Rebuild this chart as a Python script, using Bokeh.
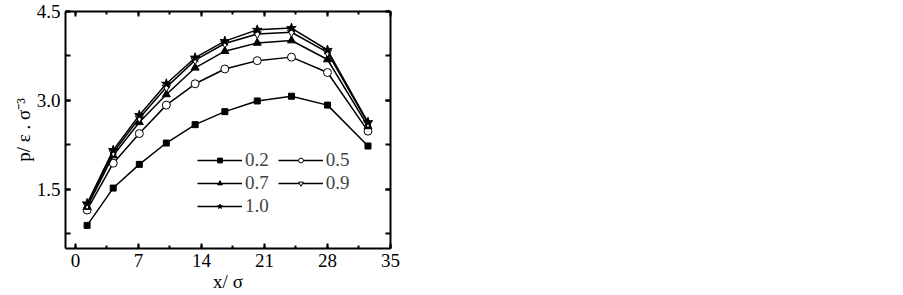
from bokeh.plotting import figure
from bokeh.models import (Range1d, SingleIntervalTicker, LinearAxis, Legend,
                          LegendItem, PrintfTickFormatter, CustomLabelingPolicy)
from bokeh.embed import file_html
from bokeh.resources import INLINE

# ---- data ----
x_pos = [1.3, 4.2, 7.1, 10.1, 13.3, 16.6, 20.2, 24.0, 28.0, 32.5]
p_02 = [0.89, 1.52, 1.92, 2.28, 2.59, 2.81, 2.99, 3.07, 2.92, 2.23]
p_05 = [1.15, 1.94, 2.44, 2.92, 3.28, 3.53, 3.67, 3.73, 3.47, 2.48]
p_07 = [1.20, 2.07, 2.63, 3.10, 3.55, 3.83, 3.97, 4.01, 3.69, 2.56]
p_09 = [1.23, 2.12, 2.70, 3.22, 3.68, 3.96, 4.12, 4.15, 3.81, 2.61]
p_10 = [1.26, 2.16, 2.75, 3.28, 3.72, 4.00, 4.19, 4.22, 3.85, 2.63]
series_labels = ["0.2", "0.5", "0.7", "0.9", "1.0"]
x_title = "x/ σ"
y_title = "p/ ε . σ⁻³"

FONT = "Liberation Serif"
FS = "19px"

p = figure(width=420, height=295, output_backend="svg", toolbar_location=None,
           x_range=Range1d(-1.1, 35), y_range=Range1d(0.5, 4.5),
           min_border_left=65, min_border_right=30, min_border_top=11,
           min_border_bottom=47)
p.grid.visible = False
p.outline_line_color = None
p.background_fill_color = "white"
p.border_fill_color = "white"

xt = SingleIntervalTicker(interval=7, num_minor_ticks=2)
yt = SingleIntervalTicker(interval=1.5, num_minor_ticks=2)

no_labels = CustomLabelingPolicy(code="""
if (typeof indices.clear === "function") {
  indices.clear()
} else if (typeof indices.unset === "function") {
  for (const i of Array.from(indices)) indices.unset(i)
}
return indices
""")

def style(ax, ticker, show_labels, minor_len):
    ax.ticker = ticker
    ax.axis_line_width = 2
    ax.axis_line_color = "black"
    ax.major_tick_in = 5
    ax.major_tick_out = 0
    ax.minor_tick_in = minor_len
    ax.minor_tick_out = 0
    ax.major_tick_line_width = 2
    ax.minor_tick_line_width = 2
    ax.major_tick_line_color = "black"
    ax.minor_tick_line_color = "black"
    if show_labels:
        ax.major_label_text_font = FONT
        ax.major_label_text_font_size = FS
        ax.major_label_text_color = "black"
        ax.major_label_standoff = 5
        ax.axis_label_text_font = FONT
        ax.axis_label_text_font_size = FS
        ax.axis_label_text_font_style = "normal"
        ax.axis_label_text_color = "black"
        ax.axis_label_standoff = 0
    else:
        ax.major_label_text_font_size = "0px"
        ax.major_label_standoff = 0
        ax.major_label_policy = no_labels

style(p.xaxis[0], xt, True, 3)
style(p.yaxis[0], yt, True, 5)
p.yaxis[0].formatter = PrintfTickFormatter(format="%.1f")
p.xaxis[0].axis_label = x_title
p.xaxis[0].axis_label_standoff = 1
p.yaxis[0].axis_label = y_title

top = LinearAxis()
style(top, xt, False, 3)
p.add_layout(top, "above")
right = LinearAxis()
style(right, yt, False, 5)
p.add_layout(right, "right")

markers = [
    dict(marker="square", size=6, fill_color="black"),
    dict(marker="circle", size=8, fill_color="white"),
    dict(marker="triangle", size=8, fill_color="black"),
    dict(marker="inverted_triangle", size=8, fill_color="white"),
    dict(marker="star", size=10, fill_color="black"),
]
data = [p_02, p_05, p_07, p_09, p_10]
rends = []
for vals, m in zip(data, markers):
    l = p.line(x_pos, vals, line_color="black", line_width=1.5)
    s = p.scatter(x_pos, vals, line_color="black", line_width=1, **m)
    rends.append([l, s])

def make_legend(idx, loc):
    leg = Legend(items=[LegendItem(label=series_labels[i], renderers=rends[i]) for i in idx],
                 orientation="horizontal", location=loc,
                 glyph_width=45, glyph_height=12, label_standoff=3, spacing=9,
                 padding=0, margin=0, border_line_alpha=0, background_fill_alpha=0,
                 label_text_font=FONT, label_text_font_size=FS, label_height=20)
    p.add_layout(leg)

make_legend([0, 1], (132, 77))
make_legend([2, 3], (132, 54))
make_legend([4], (132, 31))

open("out.html", "w").write(file_html(p, INLINE))
